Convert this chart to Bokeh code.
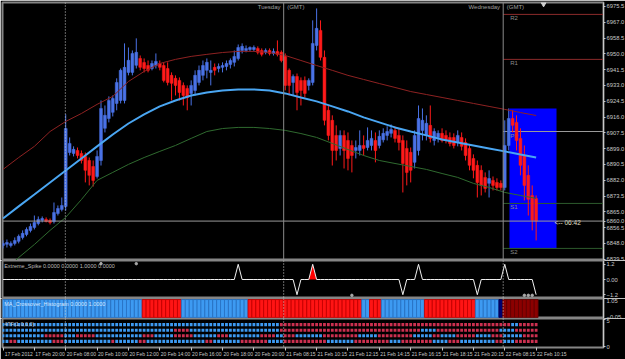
from bokeh.plotting import figure
from bokeh.layouts import column
from bokeh.models import ColumnDataSource, FixedTicker, Span, Range1d, PrintfTickFormatter
from bokeh.core.properties import value
from bokeh.embed import file_html
from bokeh.resources import INLINE

# ---------------- data ----------------
opens = [6846.9, 6847.5, 6846.9, 6848.0, 6849.1, 6851.2, 6852.8, 6855.0, 6856.6, 6858.7,
         6860.4, 6860.9, 6860.4, 6859.8, 6864.1, 6866.3, 6867.9, 6896.9, 6896.4, 6898.0,
         6896.4, 6894.8, 6892.6, 6889.4, 6884.0, 6892.6, 6909.9, 6915.2, 6918.5, 6923.3,
         6924.9, 6924.9, 6940.0, 6940.0, 6943.8, 6947.5, 6945.3, 6943.7, 6942.1, 6943.7,
         6944.8, 6943.7, 6942.1, 6938.4, 6936.8, 6935.7, 6933.0, 6931.4, 6928.7, 6930.3,
         6934.6, 6938.4, 6941.1, 6940.0, 6942.7, 6942.1, 6942.7, 6943.2, 6944.3, 6945.4,
         6947.5, 6951.8, 6951.8, 6952.3, 6952.3, 6952.9, 6951.8, 6950.8, 6951.8, 6950.2,
         6951.3, 6950.8, 6948.6, 6941.1, 6934.6, 6937.8, 6935.7, 6935.7, 6933.0, 6934.6,
         6954.5, 6962.6, 6948.1, 6919.6, 6914.2, 6906.1, 6899.1, 6906.1, 6903.4, 6900.7,
         6898.0, 6898.0, 6900.7, 6899.6, 6900.7, 6903.4, 6900.7, 6903.7, 6906.1, 6907.2,
         6908.8, 6906.1, 6903.4, 6899.1, 6897.0, 6891.6, 6898.0, 6908.8, 6906.1, 6911.5,
         6903.4, 6905.0, 6907.2, 6906.1, 6905.0, 6905.0, 6902.3, 6905.0, 6902.3, 6899.1,
         6893.7, 6890.0, 6887.3, 6883.5, 6880.3, 6881.9, 6880.8, 6880.3, 6878.1, 6900.7,
         6915.2, 6913.1, 6904.5, 6895.3, 6884.6, 6873.8, 6872.2]
highs = [6849.6, 6850.1, 6849.1, 6851.2, 6852.8, 6855.0, 6856.6, 6858.7, 6863.0, 6862.5,
         6862.5, 6862.0, 6861.4, 6870.0, 6868.4, 6872.7, 6917.4, 6905.0, 6900.2, 6899.6,
         6898.0, 6896.9, 6894.2, 6892.6, 6898.0, 6924.9, 6922.2, 6927.1, 6927.6, 6936.8,
         6942.1, 6955.6, 6953.4, 6951.8, 6958.3, 6949.1, 6947.5, 6946.4, 6946.4, 6950.2,
         6946.4, 6945.4, 6945.4, 6940.0, 6938.4, 6937.3, 6934.6, 6933.0, 6935.7, 6941.1,
         6943.7, 6946.4, 6947.5, 6946.4, 6944.8, 6944.8, 6945.4, 6946.4, 6947.5, 6951.8,
         6955.0, 6955.6, 6954.5, 6954.0, 6954.5, 6954.0, 6952.9, 6952.9, 6952.9, 6952.9,
         6957.2, 6951.8, 6950.2, 6942.1, 6938.9, 6939.4, 6937.3, 6937.8, 6936.8, 6968.0,
         6974.4, 6968.0, 6951.8, 6922.2, 6916.9, 6911.5, 6908.8, 6908.8, 6907.7, 6903.4,
         6903.4, 6908.8, 6906.1, 6910.4, 6908.8, 6907.7, 6908.8, 6909.9, 6911.0, 6912.0,
         6911.0, 6909.9, 6906.1, 6903.4, 6899.6, 6908.8, 6922.2, 6920.6, 6916.9, 6922.2,
         6909.9, 6908.8, 6909.9, 6908.8, 6907.7, 6907.2, 6908.8, 6907.7, 6904.5, 6901.2,
         6895.9, 6892.6, 6890.0, 6886.2, 6887.3, 6884.0, 6883.0, 6881.9, 6914.2, 6920.6,
         6919.6, 6916.9, 6909.9, 6900.7, 6890.0, 6879.2, 6873.8]
lows = [6845.3, 6845.8, 6845.8, 6846.9, 6848.0, 6850.1, 6851.8, 6853.9, 6855.5, 6857.7,
        6859.3, 6859.3, 6858.2, 6858.7, 6863.0, 6865.2, 6865.7, 6895.3, 6894.8, 6893.7,
        6891.0, 6880.8, 6879.2, 6878.6, 6882.9, 6889.9, 6907.7, 6913.1, 6916.3, 6919.6,
        6923.3, 6923.3, 6938.4, 6938.4, 6942.1, 6941.1, 6940.0, 6940.0, 6941.1, 6942.1,
        6941.1, 6934.6, 6933.0, 6924.9, 6927.6, 6924.9, 6922.2, 6919.6, 6922.2, 6927.6,
        6933.0, 6935.7, 6936.8, 6933.0, 6938.4, 6940.0, 6940.0, 6941.1, 6942.1, 6943.2,
        6946.4, 6950.2, 6950.8, 6951.3, 6951.3, 6949.7, 6948.6, 6949.7, 6949.1, 6949.1,
        6948.6, 6945.4, 6930.3, 6927.6, 6927.6, 6919.6, 6922.2, 6926.5, 6930.3, 6933.0,
        6951.8, 6946.4, 6911.5, 6903.4, 6889.9, 6892.6, 6895.3, 6888.3, 6887.3, 6886.2,
        6893.7, 6895.3, 6895.3, 6898.0, 6898.0, 6891.6, 6899.1, 6902.3, 6903.4, 6905.0,
        6902.3, 6898.0, 6875.4, 6879.2, 6880.8, 6888.3, 6895.3, 6903.4, 6903.4, 6902.3,
        6900.7, 6902.3, 6902.3, 6901.8, 6900.2, 6899.1, 6900.2, 6898.0, 6892.6, 6887.3,
        6883.0, 6872.7, 6873.8, 6875.4, 6872.7, 6876.5, 6876.5, 6876.5, 6876.5, 6898.0,
        6907.7, 6898.0, 6884.6, 6871.1, 6863.0, 6855.0, 6849.6]
closes = [6848.0, 6848.5, 6848.0, 6849.6, 6851.8, 6853.4, 6855.5, 6857.1, 6859.3, 6860.9,
          6861.4, 6859.8, 6859.3, 6864.6, 6866.8, 6868.4, 6909.8, 6901.8, 6898.6, 6895.3,
          6892.6, 6887.3, 6884.6, 6881.9, 6894.8, 6920.6, 6916.9, 6924.9, 6926.0, 6934.6,
          6941.1, 6942.7, 6946.5, 6950.2, 6950.8, 6942.7, 6942.1, 6941.1, 6944.8, 6945.9,
          6942.7, 6935.7, 6934.6, 6934.1, 6933.0, 6929.2, 6927.6, 6926.5, 6933.0, 6938.4,
          6941.1, 6943.7, 6945.4, 6941.1, 6941.1, 6943.2, 6943.7, 6944.8, 6946.4, 6948.6,
          6953.4, 6954.0, 6952.9, 6953.4, 6953.4, 6950.8, 6949.7, 6951.8, 6950.2, 6951.3,
          6949.7, 6946.4, 6933.0, 6933.0, 6937.8, 6929.2, 6930.3, 6928.7, 6935.7, 6955.6,
          6963.7, 6948.1, 6914.2, 6906.1, 6898.0, 6898.0, 6906.1, 6898.0, 6893.7, 6895.3,
          6899.6, 6900.7, 6899.1, 6903.4, 6904.5, 6898.0, 6905.6, 6907.2, 6908.2, 6909.3,
          6904.5, 6902.3, 6891.0, 6886.2, 6887.3, 6906.1, 6915.2, 6914.2, 6912.6, 6904.5,
          6908.2, 6907.2, 6903.4, 6903.4, 6901.8, 6900.7, 6906.1, 6900.2, 6895.3, 6890.0,
          6887.3, 6880.8, 6879.2, 6877.6, 6882.9, 6879.2, 6878.1, 6878.1, 6900.7, 6915.2,
          6911.5, 6903.4, 6890.0, 6879.2, 6871.7, 6860.4, 6860.0]

ma_bars = [0, 4, 8, 12, 16, 20, 24, 28, 32, 36, 40, 44, 48, 52, 56, 60, 64, 68,
           72, 76, 80, 84, 88, 92, 96, 100, 104, 108, 112, 116, 120, 124, 128, 132, 136]
blue_ma = [6861.4, 6867.9, 6874.3, 6880.8, 6887.2, 6893.7, 6900.2, 6906.6, 6912.5, 6917.4,
           6921.7, 6924.9, 6927.6, 6929.2, 6930.3, 6930.8, 6930.8, 6930.3, 6928.7, 6926.5,
           6924.4, 6921.7, 6919.0, 6915.8, 6913.1, 6910.4, 6908.2, 6906.1, 6903.9, 6902.3,
           6900.7, 6899.1, 6897.5, 6895.8, 6894.2]
red_ma = [6887.8, 6894.2, 6900.2, 6908.2, 6913.6, 6917.9, 6922.8, 6927.1, 6935.1, 6940.5,
          6944.8, 6947.0, 6948.6, 6949.7, 6950.7, 6951.3, 6951.3, 6950.7, 6949.1, 6946.4,
          6943.7, 6941.1, 6938.4, 6936.2, 6934.0, 6931.9, 6929.7, 6928.1, 6926.5, 6924.9,
          6923.3, 6921.7, 6920.1, 6918.4, 6916.8]
green_ma = [6832.9, 6840.4, 6847.4, 6855.0, 6862.0, 6871.6, 6881.9, 6886.2, 6890.5, 6894.2,
            6897.5, 6900.7, 6904.5, 6908.2, 6909.8, 6910.4, 6910.4, 6909.8, 6908.8, 6907.1,
            6905.0, 6901.8, 6898.5, 6895.3, 6892.6, 6891.0, 6889.4, 6887.8, 6885.6, 6883.5,
            6880.3, 6878.1, 6875.4, 6873.8, 6872.2]

pivot_names = ["R2", "R1", "PP", "S1", "S2"]
pivot_levels = [6971.2, 6947.0, 6908.2, 6869.5, 6845.3]
pivot_colors = ["#8b2b2b", "#8b2b2b", "#9a9a9a", "#2d5a2d", "#2d5a2d"]
bid = 6860.0
timer_label = "<-- 06:42"
box_bars = [129.2, 141.2]
box_prices = [6845.3, 6920.6]

day_sep_bars = [15.9, 71.6, 127.6]
day_names = ["Tuesday", "Wednesday"]

price_ticks = [6975.5, 6967.0, 6958.5, 6950.0, 6941.5, 6933.0, 6924.5, 6916.0, 6907.5,
               6899.0, 6890.5, 6882.0, 6873.5, 6865.0, 6856.5, 6848.0, 6839.5]

time_tick_bars = [0, 8, 16, 24, 32, 40, 48, 56, 64, 72, 80, 88, 96, 104, 112, 120, 128, 136]
time_labels = ["17 Feb 2012", "17 Feb 20:00", "20 Feb 08:00", "20 Feb 10:00", "20 Feb 12:00",
               "20 Feb 14:00", "20 Feb 16:00", "20 Feb 18:00", "20 Feb 20:00", "21 Feb 08:15",
               "21 Feb 10:15", "21 Feb 12:15", "21 Feb 14:15", "21 Feb 16:15", "21 Feb 18:15",
               "21 Feb 20:15", "22 Feb 08:15", "22 Feb 10:15"]

spike_bars = [60, 75, 79, 102, 106, 121, 128, 136]
spike_vals = [1.2, -1.2, 1.2, -1.2, 1.2, -1.2, 1.2, -1.2]
spike_fill_bars = [79]
spike_dot_bars = [25, 34, 89, 133, 134, 135]
spike_dot_vals = [1.25, 1.25, -1.25, -1.25, -1.25, -1.25]
spike_title = "Extreme_Spike 0.0000 0.0000 1.0000 0.0000"

hist_runs = [(0, 35, "b"), (36, 45, "r"), (46, 62, "b"), (63, 91, "r"), (92, 93, "b"),
             (94, 96, "r"), (97, 107, "b"), (108, 120, "r"), (121, 126, "b"), (127, 127, "n"),
             (128, 136, "d")]
hist_title = "MA_Crossover_Histogram 0.0000 1.0000"

dot_rows = [4, 3, 2, 1]
dot_runs = [
    [(0, 70, "b"), (71, 129, "r"), (130, 131, "b"), (132, 136, "r")],
    [(0, 43, "b"), (44, 47, "r"), (48, 70, "b"), (71, 106, "r"), (107, 110, "b"),
     (111, 126, "r"), (127, 130, "b"), (131, 136, "r")],
    [(0, 10, "b"), (11, 15, "r"), (16, 18, "b"), (19, 23, "r"), (24, 35, "b"), (36, 38, "r"),
     (39, 43, "b"), (44, 48, "r"), (49, 54, "b"), (55, 57, "r"), (58, 65, "b"), (66, 69, "r"),
     (70, 71, "b"), (72, 74, "r"), (75, 81, "b"), (82, 90, "r"), (91, 95, "b"), (96, 104, "r"),
     (105, 109, "b"), (110, 111, "r"), (112, 115, "b"), (116, 120, "r"), (121, 124, "b"),
     (125, 127, "r"), (128, 132, "b"), (133, 136, "r")],
    [(0, 1, "b"), (2, 3, "r"), (4, 12, "b"), (13, 15, "r"), (16, 27, "b"), (28, 28, "r"),
     (29, 34, "b"), (35, 36, "r"), (37, 51, "b"), (52, 53, "r"), (54, 60, "b"), (61, 67, "r"),
     (68, 71, "b"), (72, 82, "r"), (83, 89, "b"), (90, 98, "r"), (99, 101, "b"), (102, 109, "r"),
     (110, 113, "b"), (114, 116, "r"), (117, 125, "b"), (126, 127, "r"), (128, 130, "b"),
     (131, 136, "r")],
]
dots_title = "4TF(1,0,0,0)"

# ---------------- styling ----------------
FONT = "Liberation Sans"
AX = "#c8c8c8"
UP = "#4a72e6"
DN = "#ff1a1a"

n = len(opens)
bars = list(range(n))
FW = 601
xr = Range1d(-0.13, -0.13 + FW / 3.92)


def make_fig(fh, yr, top=0, bottom=0, xaxis=False):
    p = figure(frame_width=FW, frame_height=fh, x_range=xr, y_range=yr,
               output_backend="svg", toolbar_location=None,
               y_axis_location="right", x_axis_location="below" if xaxis else None,
               background_fill_color="black", border_fill_color="black",
               min_border_left=2, min_border_right=22, min_border_top=top,
               min_border_bottom=bottom, outline_line_color="#858585", outline_line_width=2)
    p.grid.visible = False
    ay = p.yaxis[0]
    ay.axis_line_color = AX
    ay.major_tick_line_color = AX
    ay.major_tick_out = 2
    ay.major_tick_in = 0
    ay.minor_tick_line_color = None
    ay.major_label_standoff = 1
    ay.major_label_text_color = AX
    ay.major_label_text_font = FONT
    ay.major_label_text_font_size = "5.8px"
    return p


# ---------------- main panel ----------------
p1 = make_fig(258, Range1d(6838.8, 6977.6), top=2)
p1.yaxis[0].ticker = FixedTicker(ticks=price_ticks + [bid])
p1.yaxis[0].formatter = PrintfTickFormatter(format="%.1f")

p1.quad(left=[box_bars[0]], right=[box_bars[1]], bottom=[box_prices[0]], top=[box_prices[1]],
        fill_color="#0000ff", line_color=None)

for name, lvl, col in zip(pivot_names, pivot_levels, pivot_colors):
    p1.segment(x0=[day_sep_bars[-1]], x1=[xr.end + 5], y0=[lvl], y1=[lvl], line_color=col, line_width=1)
    p1.text(x=[day_sep_bars[-1] + 1.8], y=[lvl], text=[name], text_color="#8c8c8c",
            text_font=value(FONT), text_font_size="6px", text_baseline="top", y_offset=1)

p1.add_layout(Span(location=bid, dimension="width", line_color="#9a9a9a", line_width=1))

p1.add_layout(Span(location=day_sep_bars[0], dimension="height", line_color="#d0d0d0",
                   line_width=1, line_dash="1 2"))
for b in day_sep_bars[1:]:
    p1.add_layout(Span(location=b, dimension="height", line_color="#8a8a8a", line_width=1))

for b, nm in zip(day_sep_bars[1:], day_names):
    p1.text(x=[b - 0.8], y=[6975.3], text=[nm], text_color="#a0a0a0", text_font=value(FONT),
            text_font_size="6px", text_align="right", text_baseline="middle")
    p1.text(x=[b + 0.9], y=[6975.3], text=["(GMT)"], text_color="#a0a0a0", text_font=value(FONT),
            text_font_size="6px", text_align="left", text_baseline="middle")

cols = [UP if c >= o else DN for o, c in zip(opens, closes)]
src = ColumnDataSource(dict(x=bars, o=opens, h=highs, l=lows, c=closes,
                            top=[max(o, c) for o, c in zip(opens, closes)],
                            bot=[min(o, c) for o, c in zip(opens, closes)], col=cols))
p1.segment(x0="x", x1="x", y0="l", y1="h", line_color="col", line_width=1, source=src)
p1.vbar(x="x", top="top", bottom="bot", width=0.72, fill_color="col", line_color="col",
        line_width=0.5, source=src)

p1.line(ma_bars, green_ma, line_color="#2f6a2f", line_width=1)
p1.line(ma_bars, red_ma, line_color="#8e2222", line_width=1)
p1.line(ma_bars, blue_ma, line_color="#4aa6f2", line_width=2)

p1.text(x=[box_bars[1] - 0.5], y=[bid - 0.8], text=[timer_label], text_color="#e6e2c8",
        text_font=value(FONT), text_font_size="6.5px", text_baseline="middle")
p1.scatter(x=[137.9], y=[6976.8], marker="inverted_triangle", size=5, color="#d0d0d0")

# ---------------- spike panel ----------------
p2 = make_fig(38, Range1d(-1.5, 1.5))
p2.yaxis[0].ticker = FixedTicker(ticks=[-1.2, 0, 1.2])
p2.yaxis[0].major_label_overrides = {0: "0.00"}
spike_series = [0.0] * n
for b, v in zip(spike_bars, spike_vals):
    spike_series[b] = v
for b in spike_fill_bars:
    p2.patch([b - 1, b, b + 1], [0, spike_series[b], 0], fill_color="#ff0000", line_color=None)
p2.line(bars, spike_series, line_color="#f0f0f0", line_width=1)
p2.scatter(spike_dot_bars, spike_dot_vals, size=2.5, color="#a8a8a8")
p2.text(x=[0.3], y=[1.05], text=[spike_title], text_color="#bdbdbd", text_font=value(FONT),
        text_font_size="5.5px", text_baseline="middle")

# ---------------- histogram panel ----------------
p3 = make_fig(20, Range1d(-0.06, 1.06))
p3.yaxis[0].ticker = FixedTicker(ticks=[-0.05, 1.05])
hist_fill = {"b": "#3d9af2", "r": "#ff1414", "n": "#00006e", "d": "#8c0000"}
hist_edge = {"b": "#2a72c4", "r": "#c40000", "n": "#000050", "d": "#650000"}
hx, hf, he = [], [], []
for s, e, k in hist_runs:
    for b in range(s, e + 1):
        hx.append(b)
        hf.append(hist_fill[k])
        he.append(hist_edge[k])
p3.vbar(x=hx, top=1, bottom=0, width=1.0, fill_color=hf, line_color=he, line_width=0.8)
p3.text(x=[0.3], y=[0.78], text=[hist_title], text_color="#d8e8ff", text_font=value(FONT),
        text_font_size="5.5px", text_baseline="middle")

# ---------------- dots panel ----------------
p4 = make_fig(29, Range1d(-0.1, 5.1), bottom=11, xaxis=True)
p4.yaxis[0].ticker = FixedTicker(ticks=[0, 5])
dot_col = {"b": "#3d9af2", "r": "#cc3050"}
dx, dy, dc = [], [], []
for rv, runs in zip(dot_rows, dot_runs):
    for s, e, k in runs:
        for b in range(s, e + 1):
            dx.append(b)
            dy.append(rv)
            dc.append(dot_col[k])
p4.rect(x=dx, y=dy, width=0.72, height=0.55, fill_color=dc, line_color=None)
p4.text(x=[0.3], y=[4.2], text=[dots_title], text_color="#bdbdbd", text_font=value(FONT),
        text_font_size="5.5px", text_baseline="middle")

ax = p4.xaxis[0]
ax.ticker = FixedTicker(ticks=[b + 4 for b in time_tick_bars], minor_ticks=time_tick_bars)
ax.major_label_overrides = {b + 4: lab for b, lab in zip(time_tick_bars, time_labels)}
ax.major_tick_line_color = None
ax.major_tick_out = 3
ax.minor_tick_line_color = AX
ax.minor_tick_out = 3
ax.minor_tick_in = 0
ax.axis_line_color = None
ax.major_label_standoff = 0
ax.major_label_text_color = AX
ax.major_label_text_font = FONT
ax.major_label_text_font_size = "5px"

for p in (p2, p3, p4):
    for b in day_sep_bars:
        p.add_layout(Span(location=b, dimension="height", line_color="#d0d0d0",
                          line_width=1, line_dash="1 2"))

layout = column(p1, p2, p3, p4, spacing=0)
open("out.html", "w").write(file_html(layout, INLINE))
